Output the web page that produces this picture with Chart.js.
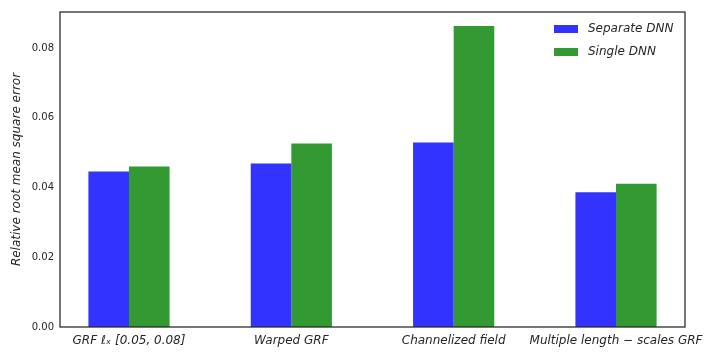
<!DOCTYPE html>
<html>
<head>
<meta charset="utf-8">
<script src="https://cdn.jsdelivr.net/npm/chart.js@4/dist/chart.umd.min.js"></script>
<style>
  html, body { margin: 0; padding: 0; background: #fff; }
  #wrap { width: 720px; height: 360px; }
</style>
</head>
<body>
<div id="wrap"><canvas id="myChart"></canvas></div>
<script>
// data
const categories = ['GRF \u2113\u2093 [0.05, 0.08]', 'Warped GRF', 'Channelized field', 'Multiple length \u2212 scales GRF'];
const separateDNN = [0.0446, 0.0469, 0.0529, 0.0386];
const singleDNN = [0.0460, 0.0526, 0.0863, 0.0411];
const seriesNames = ['Separate DNN', 'Single DNN'];
const yTicks = [0, 0.02, 0.04, 0.06, 0.08];

const ink = '#262626';
const blue = 'rgb(51,51,255)';
const green = 'rgb(51,153,51)';

// full box round the plot, like matplotlib spines
const boxPlugin = {
  id: 'box',
  afterDraw(chart) {
    const a = chart.chartArea;
    const ctx = chart.ctx;
    ctx.save();
    ctx.strokeStyle = ink;
    ctx.lineWidth = 1.25;
    ctx.strokeRect(a.left, a.top, a.right - a.left, a.bottom - a.top);
    ctx.restore();
  }
};

// legend drawn inside the plot, top right, no frame
const innerLegend = {
  id: 'innerLegend',
  afterDraw(chart) {
    const ctx = chart.ctx;
    const a = chart.chartArea;
    ctx.save();
    ctx.font = 'italic 12px "DejaVu Sans"';
    ctx.textBaseline = 'middle';
    chart.data.datasets.forEach((ds, i) => {
      const y = a.top + 17 + i * 23;
      const x = a.right - 131;
      ctx.fillStyle = ds.backgroundColor;
      ctx.fillRect(x, y - 4, 24, 8);
      ctx.fillStyle = ink;
      ctx.fillText(ds.label, x + 34, y);
    });
    ctx.restore();
  }
};

function charting() {
  const el = document.getElementById('myChart');
  const config = {
    type: 'bar',
    data: {
      datasets: [{
        label: seriesNames[0],
        data: separateDNN.map((v, i) => ({x: i, y: v})),
        backgroundColor: blue,
        borderWidth: 0
      }, {
        label: seriesNames[1],
        data: singleDNN.map((v, i) => ({x: i, y: v})),
        backgroundColor: green,
        borderWidth: 0
      }]
    },
    options: {
      responsive: true,
      maintainAspectRatio: false,
      animation: false,
      categoryPercentage: 0.5,
      barPercentage: 1,
      layout: { padding: { top: 11, right: 35, left: 0, bottom: 0 } },
      plugins: {
        legend: { display: false },
        tooltip: { enabled: false }
      },
      scales: {
        x: {
          type: 'linear',
          min: -0.425,
          max: 3.425,
          offset: false,
          grid: { display: false, drawTicks: false, offset: false },
          border: { display: false },
          afterBuildTicks(scale) {
            scale.ticks = categories.map((c, i) => ({value: i}));
          },
          afterFit(scale) { scale.height = 33; },
          ticks: {
            autoSkip: false,
            maxRotation: 0,
            padding: 7,
            color: ink,
            font: { family: 'DejaVu Sans', size: 12, style: 'italic' },
            callback: (v) => categories[v]
          }
        },
        y: {
          min: 0,
          max: 0.0903,
          grid: { display: false, drawTicks: false },
          border: { display: false },
          afterBuildTicks(scale) {
            scale.ticks = yTicks.map(v => ({value: v}));
          },
          afterFit(scale) { scale.width = 60; },
          title: {
            display: true,
            text: 'Relative root mean square error',
            color: ink,
            font: { family: 'DejaVu Sans', size: 12, style: 'italic' },
            padding: { top: 10, bottom: 4 }
          },
          ticks: {
            padding: 6,
            color: ink,
            font: { family: 'DejaVu Sans', size: 10 },
            callback: (v) => v.toFixed(2)
          }
        }
      }
    },
    plugins: [boxPlugin, innerLegend]
  };
  new Chart(el, config);
}
charting();
</script>
</body>
</html>
